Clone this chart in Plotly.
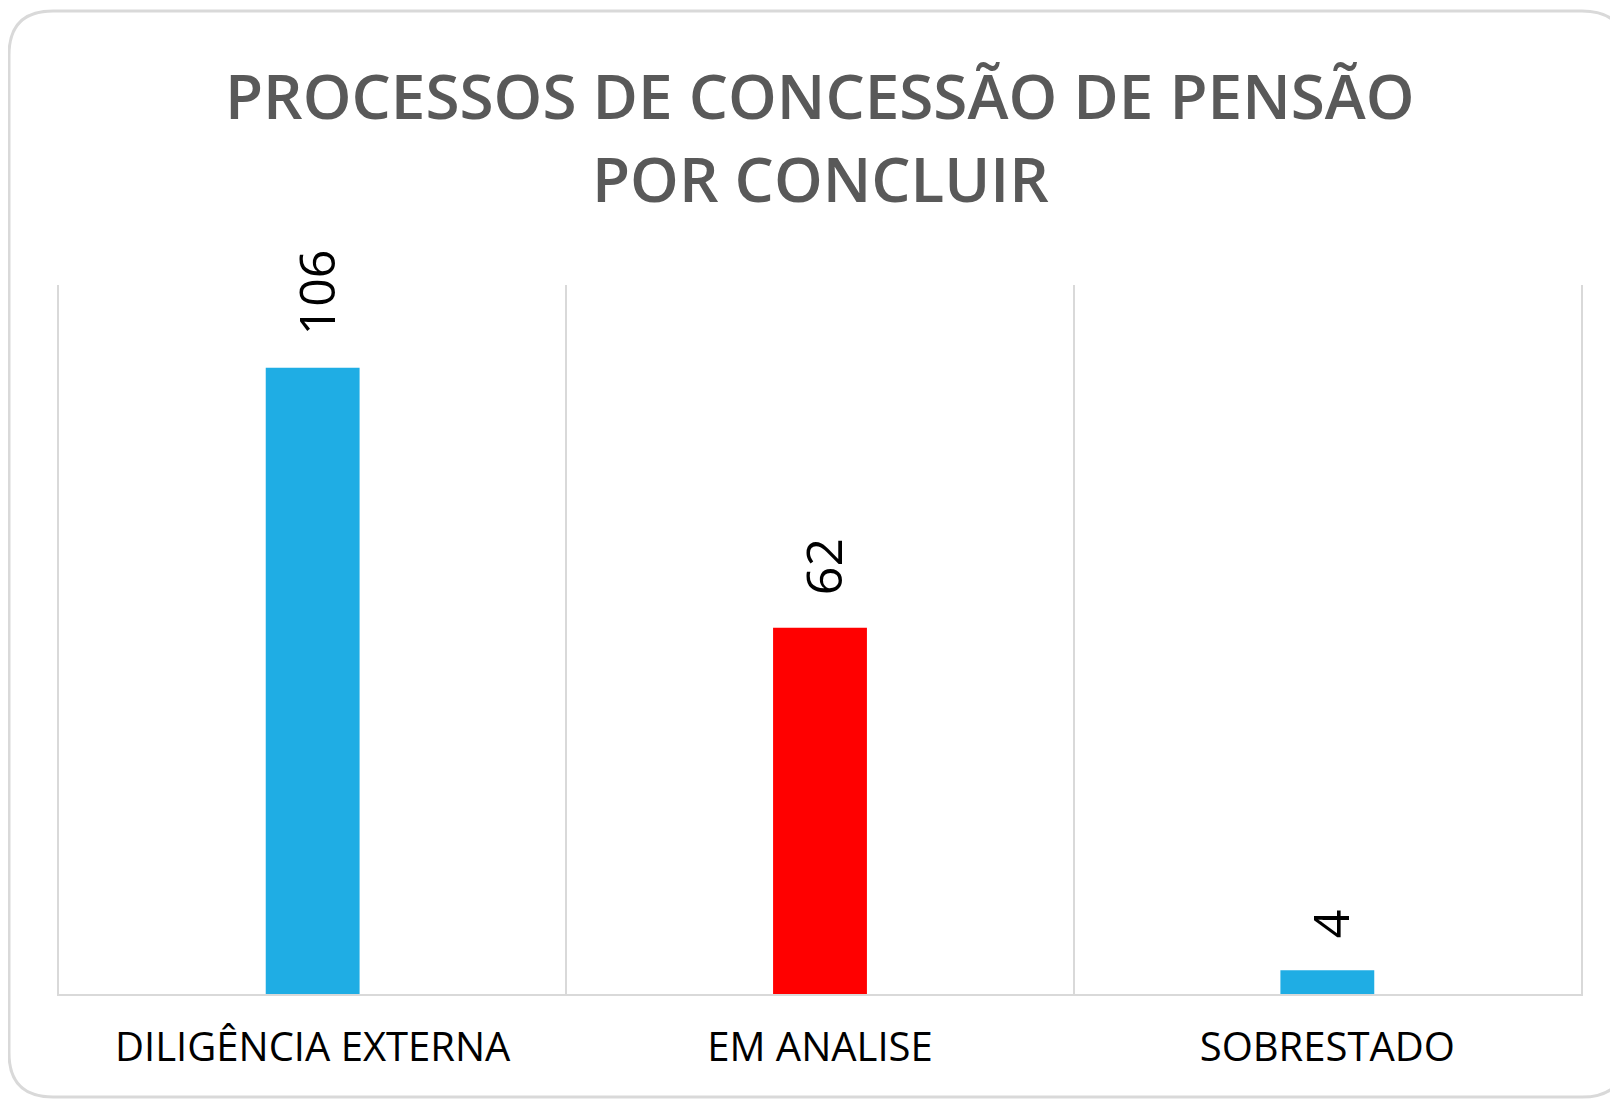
import plotly.graph_objects as go

categories = ["DILIGÊNCIA EXTERNA", "EM ANALISE", "SOBRESTADO"]
values = [106, 62, 4]
bar_colors = ["#1FADE4", "#FF0000", "#1FADE4"]
title_lines = ["PROCESSOS DE CONCESSÃO DE PENSÃO", "POR CONCLUIR"]

# page is offset by the 8px default body margin
OFF = 8
W, H = 1618 - OFF, 1101 - OFF
L, R, T, B = 59 - OFF, 1581 - OFF, 285 - OFF, 994 - OFF

def px_x(x):
    return (x - L) / (R - L)

def px_y(y):
    return (B - y) / (B - T)

fig = go.Figure()
fig.add_trace(go.Bar(
    x=categories, y=values,
    marker=dict(color=bar_colors, line=dict(width=0)),
    width=0.185,
    hoverinfo="x+y",
))

# data labels (rotated), placed above each bar
for c, v in zip(categories, values):
    fig.add_annotation(
        x=c, y=v, xref="x", yref="y",
        text=str(v), showarrow=False, textangle=-90,
        xanchor="center", yanchor="bottom", yshift=30, xshift=3,
        font=dict(family="Open Sans", size=50, color="#000000"),
    )

# title lines
for line, ypx in zip(title_lines, [95 - OFF, 178 - OFF]):
    fig.add_annotation(
        x=0.5, y=px_y(ypx), xref="paper", yref="paper",
        text=line, showarrow=False,
        xanchor="center", yanchor="middle",
        font=dict(family="Open Sans", size=62, color="#595959", weight=600),
    )

# rounded card border
x0, x1, y0, y1, r = 9 - OFF, 1626 - OFF, 11 - OFF, 1097 - OFF, 44
def P(x, y):
    return "%.5f,%.5f" % (px_x(x), px_y(y))
path = ("M " + P(x0 + r, y0) + " L " + P(x1 - r, y0) + " Q " + P(x1, y0) + " " + P(x1, y0 + r)
        + " L " + P(x1, y1 - r) + " Q " + P(x1, y1) + " " + P(x1 - r, y1)
        + " L " + P(x0 + r, y1) + " Q " + P(x0, y1) + " " + P(x0, y1 - r)
        + " L " + P(x0, y0 + r) + " Q " + P(x0, y0) + " " + P(x0 + r, y0) + " Z")
fig.add_shape(type="path", path=path, xref="paper", yref="paper",
              line=dict(color="#D9D9D9", width=3), fillcolor="rgba(0,0,0,0)", layer="below")

fig.update_layout(
    width=W, height=H,
    margin=dict(l=L, r=W - R, t=T, b=H - B, pad=0),
    paper_bgcolor="white", plot_bgcolor="white",
    showlegend=False,
    xaxis=dict(
        type="category", tickson="boundaries", showgrid=True, gridcolor="#D9D9D9", gridwidth=1.5,
        showline=True, linecolor="#D9D9D9", linewidth=2, ticks="",
        tickfont=dict(family="Open Sans", size=40, color="#000000"),
        ticklabelstandoff=17, range=[-0.5, 2.5], fixedrange=True,
    ),
    yaxis=dict(range=[0, 120], showgrid=False, showticklabels=False, zeroline=False,
               showline=True, mirror=True, linecolor="#D9D9D9", linewidth=1.5,
               ticks="", fixedrange=True),
)

fig.write_html("out.html")
